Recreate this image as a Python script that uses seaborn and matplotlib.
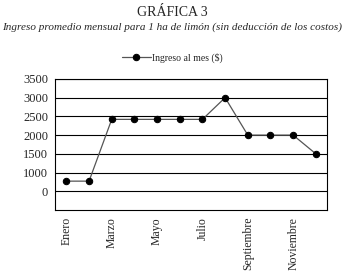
import matplotlib
matplotlib.use("Agg")
import matplotlib.pyplot as plt
import seaborn as sns
import pandas as pd
import numpy as np

months = ["Enero", "Febrero", "Marzo", "Abril", "Mayo", "Junio", "Julio",
          "Agosto", "Septiembre", "Octubre", "Noviembre", "Diciembre"]
ingreso = [770, 770, 2420, 2420, 2420, 2420, 2420, 3000, 2000, 2000, 2000, 1500]
ytick_vals = [0, 500, 1000, 1500, 2000, 2500, 3000, 3500]
ytick_labels = ["", "0", "1000", "1500", "2000", "2500", "3000", "3500"]
xlabel_months = ["Enero", "Marzo", "Mayo", "Julio", "Septiembre", "Noviembre"]

sns.set_style("white")
plt.rcParams["font.family"] = ["Liberation Serif", "DejaVu Serif"]

df = pd.DataFrame({"mes": months, "ingreso": ingreso, "x": np.arange(len(months))})

fig = plt.figure(figsize=(3.44, 2.77), dpi=100)
ax = fig.add_axes([0.160, 0.242, 0.791, 0.473])

for v in ytick_vals[1:]:
    ax.axhline(v, color="black", lw=0.8, zorder=1)

sns.lineplot(data=df, x="x", y="ingreso", ax=ax, color="#555555", lw=0.9,
             marker="o", markersize=4.6, markerfacecolor="black",
             markeredgecolor="black", label="Ingreso al mes ($)", zorder=3)

ax.set_xlim(-0.5, len(months) - 0.5)
ax.set_ylim(0, 3500)
ax.set_yticks(ytick_vals)
ax.set_yticklabels(ytick_labels, fontsize=9)
ax.set_xticks(np.arange(-0.5, len(months), 1.0))
ax.set_xticklabels([])
ax.set_xticks([months.index(m) for m in xlabel_months], minor=True)
ax.set_xticklabels(xlabel_months, minor=True, rotation=90, fontsize=8.5)
ax.tick_params(axis="x", which="minor", length=0, pad=5)
ax.tick_params(axis="x", which="major", length=4, width=0.8, direction="inout", color="black")
ax.tick_params(axis="y", length=4, width=0.8, direction="out", color="black", pad=1)
ax.set_xlabel("")
ax.set_ylabel("")
for s in ax.spines.values():
    s.set_visible(True)
    s.set_color("black")
    s.set_linewidth(0.8)

ax.legend(loc="center", bbox_to_anchor=(0.43, 1.16), frameon=False,
          fontsize=7, handlelength=3, handletextpad=0.1, borderpad=0)

fig.text(0.5, 0.955, "GRÁFICA 3", ha="center", va="center", fontsize=10)
fig.text(0.5, 0.902, "Ingreso promedio mensual para 1 ha de limón (sin deducción de los costos)",
         ha="center", va="center", fontsize=8, style="italic")

fig.savefig("out.png", dpi=100)
